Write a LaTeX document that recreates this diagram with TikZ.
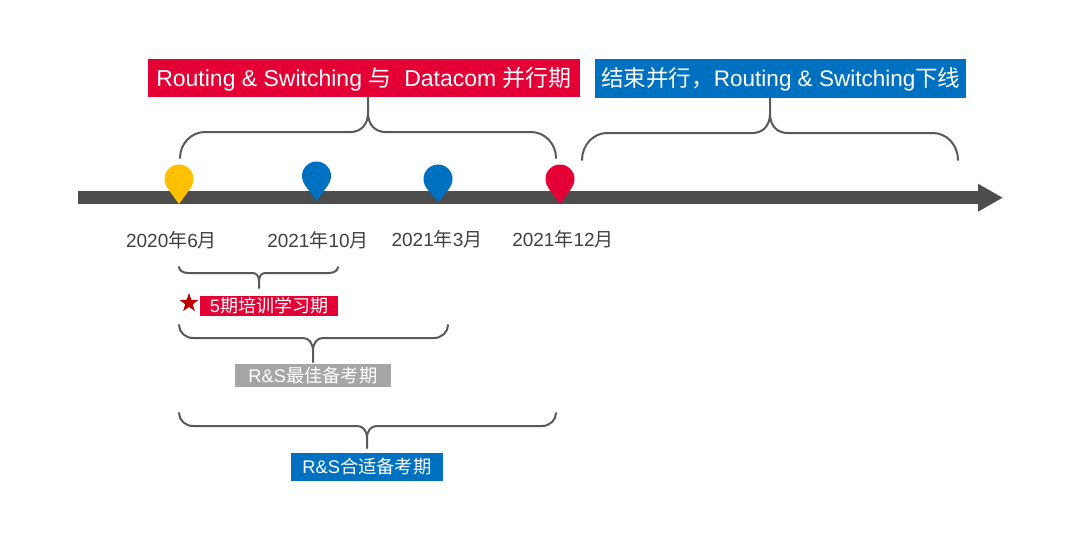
\documentclass[tikz,border=0pt]{standalone}
\usepackage{fontspec}
\setmainfont{Liberation Sans}
\newfontfamily\cjk{Noto Sans CJK SC}
\usepackage{xcolor}
\definecolor{mainred}{RGB}{228, 0, 52}
\definecolor{mainblue}{RGB}{0, 112, 192}
\definecolor{pinyellow}{RGB}{255, 192, 0}
\definecolor{barcolor}{RGB}{77, 77, 77}
\definecolor{bracecolor}{RGB}{89, 89, 89}
\definecolor{datecolor}{RGB}{64, 64, 64}
\definecolor{bandgray}{RGB}{166, 166, 166}
\definecolor{stardark}{RGB}{192, 0, 0}
\usetikzlibrary{positioning, shapes.geometric, arrows.meta, calc}

% brace from #1 to #2 with its point at #3, shoulder at height #4 and corner size #5
\newcommand{\timebrace}[5]{
    \draw [bracecolor, line width=2pt, line cap=round] let \p1=(#1), \p2=(#2), \p3=(#3), \p4=(0, #4) in
        (\p1) .. controls (\x1, 0.45*\y1+0.55*\y4) and (\x1+0.45*#5, \y4) .. (\x1+#5, \y4)
        -- (\x3-0.7*#5, \y4) .. controls (\x3-0.3*#5, \y4) and (\x3, 0.8*\y4+0.2*\y3) .. (\x3, 0.45*\y4+0.55*\y3) -- (\p3)
        (\x3, 0.45*\y4+0.55*\y3) .. controls (\x3, 0.8*\y4+0.2*\y3) and (\x3+0.3*#5, \y4) .. (\x3+0.7*#5, \y4)
        -- (\x2-#5, \y4) .. controls (\x2-0.45*#5, \y4) and (\x2, 0.45*\y2+0.55*\y4) .. (\p2);
}
% map pin: round head named #1 at (#2,#3), point at height #4
\newcommand{\timepin}[5]{
    \node [pinhead, fill=#5] (#1) at (#2, #3) {};
    \fill [#5] (#1.-145) -- (#2, #4) -- (#1.-35) -- cycle;
}

\tikzset{
    pinhead/.style={circle, minimum size=29pt, inner sep=0pt},
    band/.style={inner sep=0pt, text=white, align=center},
    topband/.style={band, text height=18.5pt, text depth=1pt, font=\fontsize{23}{26}\selectfont},
    datelabel/.style={text=datecolor, inner sep=0pt, font=\fontsize{19}{22}\selectfont}
}

\begin{document}
\begin{tikzpicture}[x=1pt, y=-1pt, >=stealth]
    \useasboundingbox (0, 0) rectangle (1080, 550);

    % timeline
    \coordinate (barstart) at (78, 197.7);
    \coordinate (barend) at (1003, 197.7);
    \draw [-{Triangle[length=25pt, width=26pt]}, barcolor, line width=13pt] (barstart) -- (barend);

    % pins
    \timepin{pinstart}{179}{179}{204}{pinyellow}
    \timepin{pinten}{316.5}{176}{201}{mainblue}
    \timepin{pinmarch}{438}{179}{202}{mainblue}
    \timepin{pinend}{560}{179}{204}{mainred}

    % dates
    \node [datelabel] (datestart) at (171.5, 240) {2020{\cjk 年}6{\cjk 月}};
    \node [datelabel] (dateten) at (318, 240) {2021{\cjk 年}10{\cjk 月}};
    \node [datelabel] (datemarch) at (437, 239) {2021{\cjk 年}3{\cjk 月}};
    \node [datelabel] (dateend) at (563, 239) {2021{\cjk 年}12{\cjk 月}};

    % top bands
    \node [topband, fill=mainred, minimum width=432pt, minimum height=38pt] (parallel) at (364, 78) {Routing \& Switching {\cjk 与}\ \ Datacom {\cjk 并行期}};
    \node [topband, fill=mainblue, minimum width=371pt, minimum height=39pt, font=\fontsize{22.5}{26}\selectfont, right=15pt of parallel] (offline) {{\cjk 结束并行，}Routing \& Switching{\cjk 下线}};

    % lower bands
    \node [band, fill=mainred, minimum width=138pt, minimum height=20pt, font=\fontsize{18}{20}\selectfont] (study) at (269, 306) {5{\cjk 期培训学习期}};
    \node [star, star points=5, star point ratio=2.5, fill=stardark, inner sep=0pt, minimum size=20pt] (mark) at (189, 303) {};
    \node [band, fill=bandgray, minimum width=156pt, minimum height=23pt, font=\fontsize{18.3}{21}\selectfont] (best) at (313, 375.5) {R\&S{\cjk 最佳备考期}};
    \node [band, fill=mainblue, minimum width=152pt, minimum height=28pt, font=\fontsize{18.3}{21}\selectfont] (fit) at (367, 467) {R\&S{\cjk 合适备考期}};

    % braces
    \coordinate (topa) at (180, 158);
    \coordinate (topb) at (556, 158);
    \coordinate (topc) at (368, 97);
    \coordinate (nexta) at (582, 160);
    \coordinate (nextb) at (958, 160);
    \coordinate (nextc) at (770, 98);
    \coordinate (studya) at (179, 267);
    \coordinate (studyb) at (338, 267);
    \coordinate (studyc) at (259, 288);
    \coordinate (besta) at (179, 325);
    \coordinate (bestb) at (448, 325);
    \coordinate (bestc) at (313, 362);
    \coordinate (fita) at (179, 413);
    \coordinate (fitb) at (556, 413);
    \coordinate (fitc) at (367, 448);
    \timebrace{topa}{topb}{topc}{132}{25}
    \timebrace{nexta}{nextb}{nextc}{133}{25}
    \timebrace{studya}{studyb}{studyc}{273}{9}
    \timebrace{besta}{bestb}{bestc}{338}{14}
    \timebrace{fita}{fitb}{fitc}{426}{14}
\end{tikzpicture}
\end{document}
